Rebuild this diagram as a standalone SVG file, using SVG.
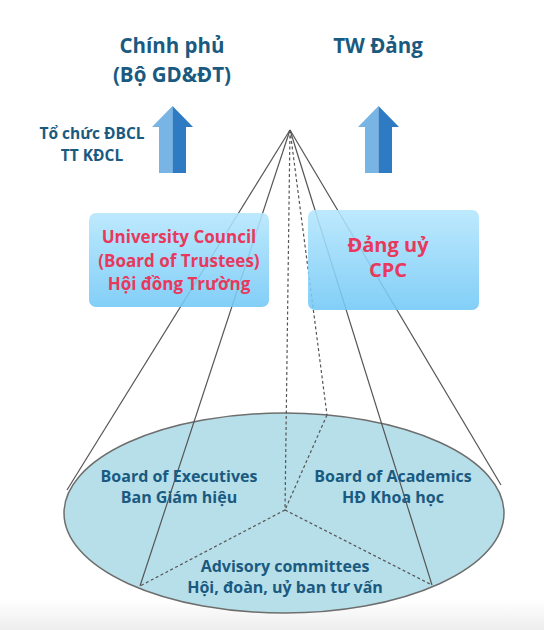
<svg xmlns="http://www.w3.org/2000/svg" width="544" height="630" viewBox="0 0 544 630">
<defs>
<linearGradient id="boxg" x1="0" y1="0" x2="0" y2="1">
<stop offset="0" stop-color="#b4e6fd"/>
<stop offset="1" stop-color="#72c8f6"/>
</linearGradient>
<linearGradient id="bottomg" x1="0" y1="0" x2="0" y2="1">
<stop offset="0" stop-color="#ffffff"/>
<stop offset="1" stop-color="#ededed"/>
</linearGradient>
<style>
.t{font-family:"Open Sans","Noto Sans","DejaVu Sans",sans-serif;font-weight:700;text-anchor:middle}
.dk{fill:#1a5a80}
.rd{fill:#e8395c}
.ln{stroke:#555;stroke-width:1.2;fill:none}
.ds{stroke:#555;stroke-width:1.2;fill:none;stroke-dasharray:3 2.5}
.box{fill:url(#boxg);opacity:0.88}
.al{fill:#78b5e5}
.ar{fill:#2e7bc3}
</style>
</defs>
<rect x="0" y="0" width="544" height="630" fill="#ffffff"/>
<rect x="0" y="600" width="544" height="30" fill="url(#bottomg)"/>

<g id="base-ellipse">
<ellipse cx="284" cy="513" rx="220" ry="100" fill="#b7dfe9" stroke="#6e6e6e" stroke-width="1.5"/>
</g>

<g id="connectors">
<line class="ln" x1="290" y1="130" x2="67" y2="490"/>
<line class="ln" x1="290" y1="130" x2="140" y2="586"/>
<line class="ln" x1="290" y1="130" x2="432" y2="585"/>
<line class="ln" x1="290" y1="130" x2="501" y2="485"/>
<line class="ds" x1="290" y1="130" x2="285" y2="510"/>
<line class="ds" x1="290" y1="130" x2="327" y2="415"/>
<line class="ds" x1="327" y1="415" x2="285" y2="510"/>
<line class="ds" x1="285" y1="510" x2="140" y2="586"/>
<line class="ds" x1="285" y1="510" x2="432" y2="585"/>
</g>

<g id="chinh-phu">
<text class="t dk" x="172" y="53" font-size="20.5">Chính phủ</text>
<text class="t dk" x="172" y="82" font-size="20.5">(Bộ GD&amp;ĐT)</text>
</g>

<g id="tw-dang">
<text class="t dk" x="378" y="53" font-size="20.5">TW Đảng</text>
</g>

<g id="to-chuc">
<text class="t dk" x="92" y="139" font-size="15.5">Tổ chức ĐBCL</text>
<text class="t dk" x="92" y="161" font-size="15.5">TT KĐCL</text>
</g>

<g id="arrow-left">
<polygon class="al" points="172.5,106 152,127 159,127 159,173 172.5,173"/>
<polygon class="ar" points="172.5,106 193,127 186,127 186,173 172.5,173"/>
</g>

<g id="arrow-right">
<polygon class="al" points="378.5,106 358,127 365,127 365,173 378.5,173"/>
<polygon class="ar" points="378.5,106 399,127 392,127 392,173 378.5,173"/>
</g>

<g id="university-council">
<rect class="box" x="89" y="213" width="180" height="94" rx="7"/>
<text class="t rd" x="179" y="243" font-size="17">University Council</text>
<text class="t rd" x="179" y="267" font-size="17">(Board of Trustees)</text>
<text class="t rd" x="179" y="290" font-size="17">Hội đồng Trường</text>
</g>

<g id="dang-uy">
<rect class="box" x="308" y="210" width="171" height="100" rx="7"/>
<text class="t rd" x="388" y="252" font-size="20">Đảng uỷ</text>
<text class="t rd" x="388" y="277" font-size="20">CPC</text>
</g>

<g id="board-executives">
<text class="t dk" x="179" y="482" font-size="16">Board of Executives</text>
<text class="t dk" x="179" y="503" font-size="16">Ban Giám hiệu</text>
</g>

<g id="board-academics">
<text class="t dk" x="393" y="482" font-size="16">Board of Academics</text>
<text class="t dk" x="393" y="503" font-size="16">HĐ Khoa học</text>
</g>

<g id="advisory">
<text class="t dk" x="285" y="572" font-size="16">Advisory committees</text>
<text class="t dk" x="285" y="593" font-size="16">Hội, đoàn, uỷ ban tư vấn</text>
</g>
</svg>
